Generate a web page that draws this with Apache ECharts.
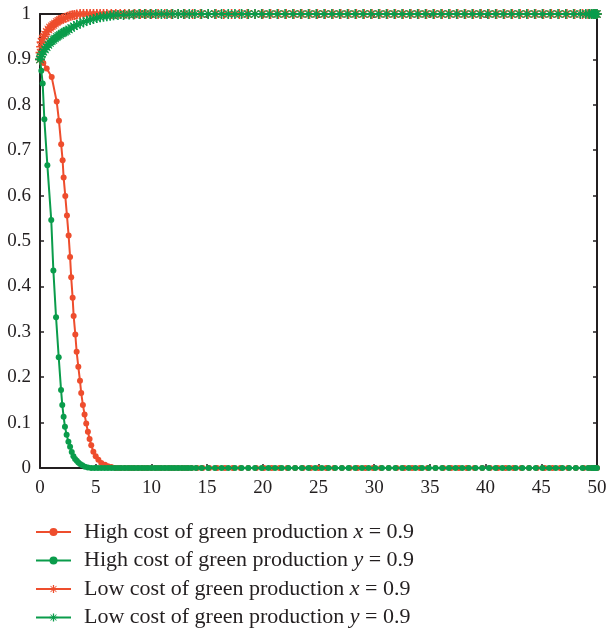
<!DOCTYPE html>
<html>
<head>
<meta charset="utf-8">
<script src="https://cdn.jsdelivr.net/npm/echarts@6/dist/echarts.min.js"></script>
<style>html,body{margin:0;padding:0;background:#fff}#c{width:616px;height:633px}</style>
</head>
<body>
<div id="c"></div>
<script>
const seriesNames = [
  'High cost of green production x = 0.9',
  'High cost of green production y = 0.9',
  'Low cost of green production x = 0.9',
  'Low cost of green production y = 0.9'
];
const xTicks = [0,5,10,15,20,25,30,35,40,45,50];
const yTicks = [0,0.1,0.2,0.3,0.4,0.5,0.6,0.7,0.8,0.9,1];

// transient parts [t, value]
const highXHead = [[0,0.9],[0.3,0.892],[0.6,0.88],[1.05,0.861],[1.5,0.807],[1.7,0.765],[1.9,0.713],[2.03,0.678],[2.12,0.64],[2.27,0.599],[2.42,0.556],[2.57,0.512],[2.7,0.465],[2.8,0.42],[2.93,0.375],[3.02,0.335],[3.17,0.294],[3.29,0.256],[3.44,0.223],[3.59,0.192],[3.7,0.165],[3.85,0.139],[4.0,0.118],[4.15,0.098],[4.3,0.08],[4.45,0.064],[4.6,0.05],[4.79,0.036],[5.0,0.026],[5.24,0.018],[5.5,0.011],[5.83,0.007],[6.1,0.004],[6.4,0.002]];
const highYHead = [[0,0.9],[0.12,0.875],[0.24,0.847],[0.39,0.768],[0.66,0.667],[1.01,0.546],[1.2,0.435],[1.44,0.332],[1.68,0.244],[1.89,0.172],[2.0,0.139],[2.12,0.113],[2.24,0.091],[2.39,0.073],[2.55,0.058],[2.7,0.047],[2.85,0.035],[3.0,0.026],[3.15,0.02],[3.3,0.016],[3.44,0.012],[3.6,0.009],[3.8,0.006],[4.04,0.003],[4.3,0.001]];
const lowXHead = [[0,0.9],[0.05,0.915],[0.1,0.928],[0.15,0.938],[0.25,0.946],[0.35,0.951],[0.45,0.955],[0.6,0.961],[0.75,0.966],[0.9,0.97],[1.05,0.973],[1.2,0.976],[1.35,0.979],[1.5,0.982],[1.65,0.985],[1.8,0.987],[1.95,0.989],[2.1,0.99],[2.3,0.992],[2.5,0.994],[2.7,0.996],[2.9,0.997],[3.1,0.998],[3.3,0.999],[3.6,1]];
const lowYHead = [[0,0.9],[0.08,0.906],[0.15,0.911],[0.3,0.917],[0.45,0.922],[0.6,0.927],[0.75,0.932],[0.9,0.936],[1.05,0.94],[1.2,0.943],[1.35,0.946],[1.5,0.949],[1.65,0.952],[1.8,0.954],[1.95,0.957],[2.1,0.959],[2.25,0.961],[2.4,0.963],[2.6,0.966],[2.8,0.969],[3.05,0.973],[3.3,0.976],[3.6,0.979],[3.9,0.982],[4.2,0.985],[4.5,0.987],[4.8,0.989],[5.1,0.991],[5.4,0.993],[5.7,0.994],[6.0,0.995],[6.3,0.996],[6.6,0.997],[7.0,0.998],[7.5,0.998],[8.0,0.999],[8.4,0.999]];

// steady-state parts: sample times and the value held
const highXTailT = [6.8,7.2,7.6,8.0,8.4,8.8,9.2,9.6,10.0,10.4,10.8,11.2,11.6,12.0,12.4,12.8,13.2,13.6,14.1,14.6,15.2,15.9,16.6,17.3,18.0,18.7,19.4,20.1,20.8,21.5,22.2,22.9,23.6,24.3,25.0,25.7,26.4,27.1,27.8,28.5,29.2,29.9,30.6,31.3,32.0,32.7,33.4,34.1,34.8,35.5,36.2,36.9,37.6,38.3,39.0,39.7,40.4,41.1,41.8,42.5,43.2,43.9,44.6,45.3,46.0,46.7,47.4,48.1,48.8,49.3,49.6,49.8,50.0];
const highYTailT = [4.6,4.9,5.2,5.5,5.8,6.1,6.4,6.7,7.0,7.3,7.6,7.9,8.2,8.5,8.8,9.1,9.4,9.7,10.0,10.3,10.6,10.9,11.2,11.5,11.8,12.1,12.4,12.7,13.0,13.3,13.6,14.0,14.5,15.1,15.7,16.3,16.9,17.5,18.1,18.7,19.3,19.9,20.5,21.1,21.7,22.3,22.9,23.5,24.1,24.7,25.3,25.9,26.5,27.1,27.7,28.3,28.9,29.5,30.1,30.7,31.3,31.9,32.5,33.1,33.7,34.3,34.9,35.5,36.1,36.7,37.3,37.9,38.5,39.1,39.7,40.3,40.9,41.5,42.1,42.7,43.3,43.9,44.5,45.1,45.7,46.3,46.9,47.5,48.1,48.7,49.2,49.5,49.7,49.85,50.0];
const lowXTailT = [3.9,4.2,4.5,4.8,5.1,5.4,5.7,6.0,6.4,6.8,7.2,7.6,8.0,8.5,9.0,9.5,10.0,10.6,11.2,11.8,12.4,13.0,13.7,14.4,15.1,15.8,16.5,17.2,17.9,18.6,19.3,20.0,20.7,21.4,22.1,22.8,23.5,24.2,24.9,25.6,26.3,27.0,27.7,28.4,29.1,29.8,30.5,31.2,31.9,32.6,33.3,34.0,34.7,35.4,36.1,36.8,37.5,38.2,38.9,39.6,40.3,41.0,41.7,42.4,43.1,43.8,44.5,45.2,45.9,46.6,47.3,48.0,48.7,49.2,49.5,49.7,49.85,50.0];
const lowYTailT = [8.9,9.4,9.9,10.4,10.9,11.4,11.9,12.4,12.9,13.4,13.9,14.5,15.1,15.7,16.3,16.9,17.5,18.1,18.7,19.3,19.9,20.6,21.3,22.0,22.7,23.4,24.1,24.8,25.5,26.2,26.9,27.6,28.3,29.0,29.7,30.4,31.1,31.8,32.5,33.2,33.9,34.6,35.3,36.0,36.7,37.4,38.1,38.8,39.5,40.2,40.9,41.6,42.3,43.0,43.7,44.4,45.1,45.8,46.5,47.2,47.9,48.5,49.0,49.3,49.5,49.65,49.8,49.9,50.0];
const highXTailV = 0, highYTailV = 0, lowXTailV = 1, lowYTailV = 1;

const RED = '#ee4d2d', GREEN = '#0a9c4b';
const STAR = 'path://M8.4 0L11.6 0L11.6 20L8.4 20ZM0 8.4L20 8.4L20 11.6L0 11.6ZM1.9 3.3L3.3 1.9L18.1 16.7L16.7 18.1ZM16.7 1.9L18.1 3.3L3.3 18.1L1.9 16.7Z';

function build(head, tailT, v) { return head.concat(tailT.map(t => [t, v])); }

const FONT = 'Liberation Serif';
const mk = (name, data, color, symbol, size, z) => ({
  name, type: 'line', data, symbol, symbolSize: size, showAllSymbol: true,
  lineStyle: { color, width: 2 }, itemStyle: { color, borderWidth: 0 },
  animation: false, z, xAxisIndex: 0, yAxisIndex: 0
});

const chart = echarts.init(document.getElementById('c'), null, { renderer: 'canvas' });
const axisCommon = {
  axisLine: { show: true, onZero: false, lineStyle: { color: '#231f20', width: 2 } },
  axisTick: { show: true, inside: true, length: 4, lineStyle: { color: '#231f20', width: 1.5 } },
  splitLine: { show: false }
};
chart.setOption({
  backgroundColor: '#fff',
  animation: false,
  grid: { left: 40, right: 19, top: 14, bottom: 165, containLabel: false },
  xAxis: [
    Object.assign({ type: 'value', min: xTicks[0], max: xTicks[xTicks.length-1], interval: 5, position: 'bottom',
      axisLabel: { color: '#231f20', fontFamily: FONT, fontSize: 19, margin: 11 } }, axisCommon),
    Object.assign({ type: 'value', min: xTicks[0], max: xTicks[xTicks.length-1], interval: 5, position: 'top',
      axisLabel: { show: false } }, axisCommon)
  ],
  yAxis: [
    Object.assign({ type: 'value', min: yTicks[0], max: yTicks[yTicks.length-1], interval: 0.1, position: 'left',
      axisLabel: { color: '#231f20', fontFamily: FONT, fontSize: 19, margin: 9, formatter: v => String(+v.toFixed(1)) } }, axisCommon),
    Object.assign({ type: 'value', min: yTicks[0], max: yTicks[yTicks.length-1], interval: 0.1, position: 'right',
      axisLabel: { show: false } }, axisCommon)
  ],
  legend: {
    orient: 'vertical', left: 35, top: 521, width: 570, height: 112, padding: 0,
    itemWidth: 35, itemHeight: 10, itemGap: 6.5,
    data: seriesNames,
    formatter: n => n.replace(/ (x|y) =/, ' {i|$1} ='),
    textStyle: { color: '#231f20', fontFamily: FONT, fontSize: 22, lineHeight: 22, padding: [0,0,0,8],
      rich: { i: { fontStyle: 'italic', fontFamily: FONT, fontSize: 22, color: '#231f20' } } }
  },
  series: [
    mk(seriesNames[0], build(highXHead, highXTailT, highXTailV), RED, 'circle', 6, 2),
    mk(seriesNames[1], build(highYHead, highYTailT, highYTailV), GREEN, 'circle', 6, 3),
    mk(seriesNames[2], build(lowXHead, lowXTailT, lowXTailV), RED, STAR, 10, 4),
    mk(seriesNames[3], build(lowYHead, lowYTailT, lowYTailV), GREEN, STAR, 10, 5)
  ]
});
</script>
</body>
</html>
